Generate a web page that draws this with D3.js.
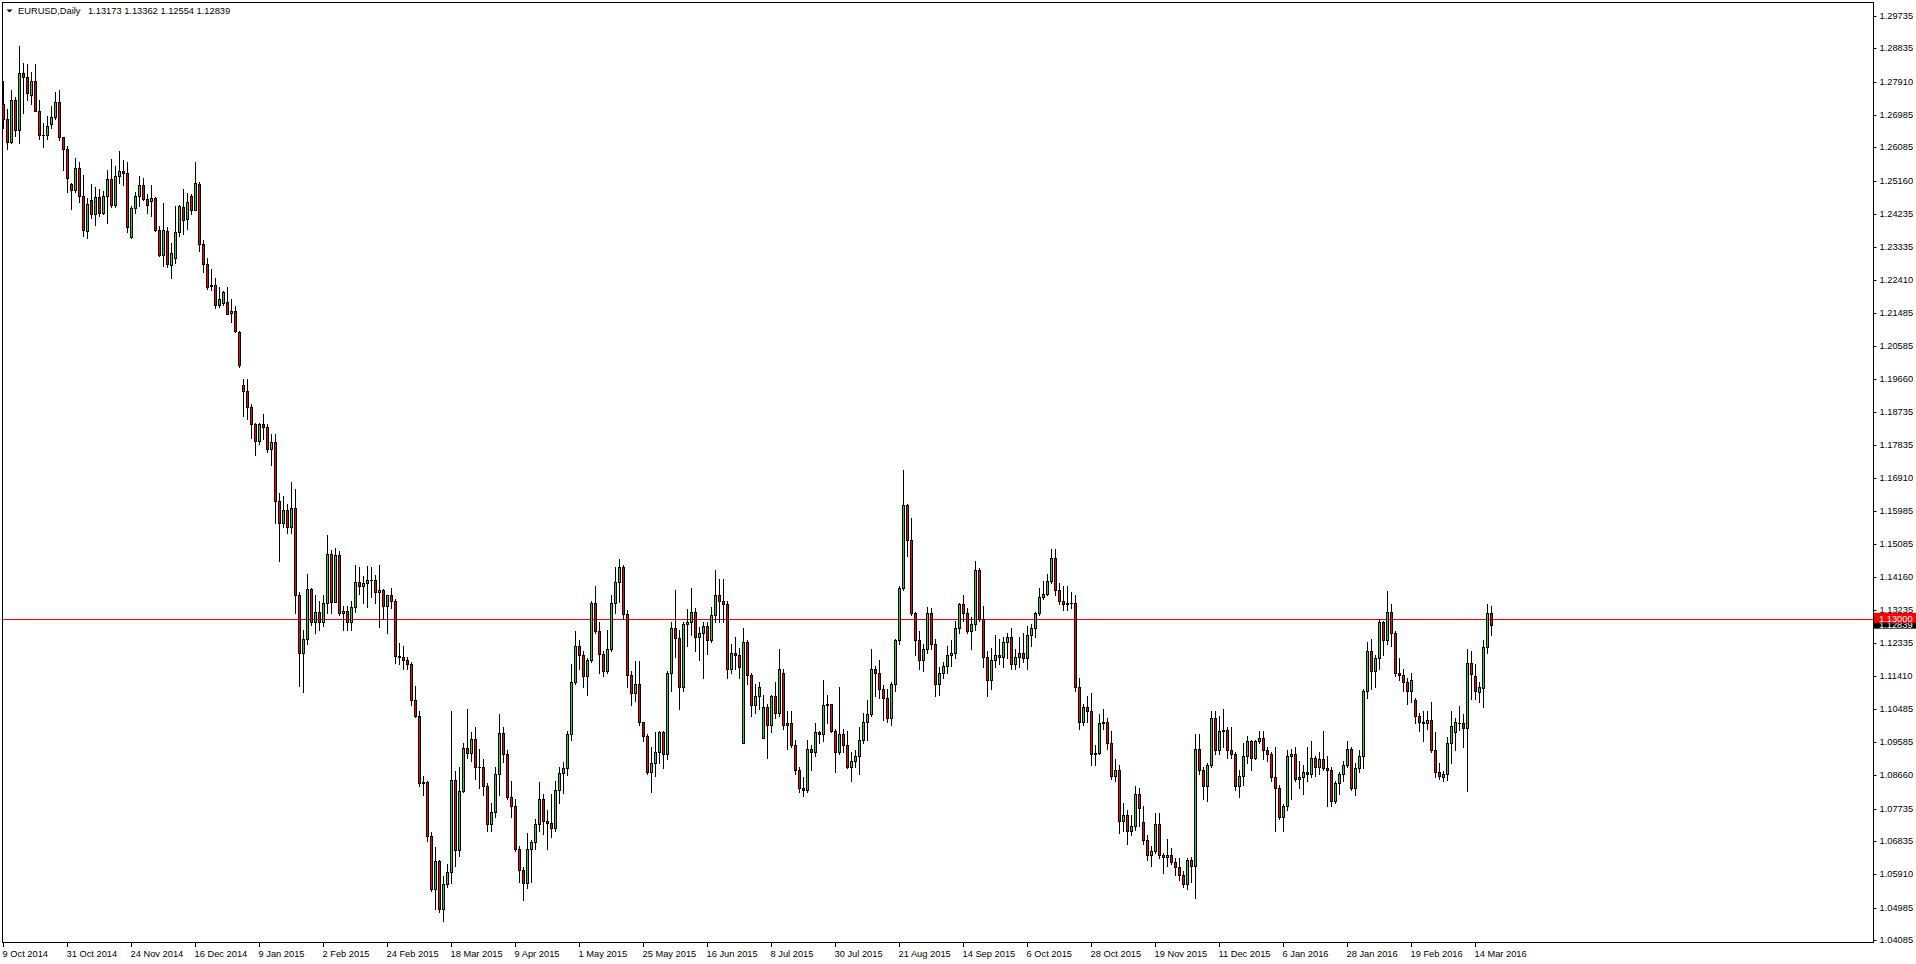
<!DOCTYPE html>
<html><head><meta charset="utf-8">
<script src="https://cdn.jsdelivr.net/npm/d3@7"></script>
<style>
html,body{margin:0;padding:0;background:#fff;overflow:hidden}
svg{display:block}
text{font-family:"Liberation Sans",Arial,sans-serif}
</style></head><body>
<svg id="c" width="1916" height="964"></svg>
<script>
const symbolName = "EURUSD,Daily";
const lastQuote = ["1.13173","1.13362","1.12554","1.12839"];
const openP = [
1.2730,1.2687,1.2625,1.2741,1.2656,1.2815,1.2804,1.2754,1.2793,1.2710,1.2643,1.2643,1.2673,1.2693,1.2735,1.2637,
1.2605,1.2508,1.2490,1.2552,1.2474,1.2376,1.2462,1.2423,1.2472,1.2426,1.2474,1.2522,1.2448,1.2530,1.2543,1.2539,
1.2360,1.2440,1.2474,1.2505,1.2466,1.2459,1.2469,1.2380,1.2310,1.2377,1.2282,1.2303,1.2373,1.2444,1.2410,1.2475,
1.2435,1.2508,1.2340,1.2285,1.2226,1.2226,1.2170,1.2177,1.2179,1.2148,1.2155,1.2097,1.1950,1.1932,1.1888,1.1840,
1.1794,1.1840,1.1832,1.1772,1.1790,1.1627,1.1566,1.1602,1.1556,1.1607,1.1365,1.1204,1.1243,1.1382,1.1290,1.1318,
1.1290,1.1343,1.1480,1.1348,1.1478,1.1315,1.1321,1.1292,1.1333,1.1402,1.1390,1.1400,1.1409,1.1407,1.1375,1.1380,
1.1335,1.1365,1.1350,1.1197,1.1195,1.1185,1.1175,1.1075,1.1031,1.0843,1.0848,1.0698,1.0551,1.0627,1.0495,1.0565,
1.0596,1.0852,1.0659,1.0821,1.0942,1.0928,1.0966,1.0890,1.0888,1.0835,1.0730,1.0765,1.0870,1.0982,1.0925,1.0805,
1.0780,1.0660,1.0603,1.0566,1.0660,1.0680,1.0730,1.0800,1.0738,1.0733,1.0720,1.0825,1.0873,1.0885,1.0980,1.1125,
1.1225,1.1199,1.1140,1.1185,1.1345,1.1265,1.1203,1.1154,1.1215,1.1345,1.1402,1.1445,1.1314,1.1145,1.1095,1.1120,
1.1013,1.0974,1.0875,1.0900,1.0930,1.0985,1.0925,1.1150,1.1275,1.1247,1.1110,1.1285,1.1290,1.1320,1.1250,1.1260,
1.1280,1.1240,1.1310,1.1365,1.1350,1.1340,1.1160,1.1205,1.1200,1.0955,1.1235,1.1145,1.1060,1.1085,1.0970,1.1055,
1.1005,1.1085,1.1040,1.1150,1.1005,1.1010,1.0950,1.0880,1.0830,1.0825,1.0940,1.0930,1.0985,1.0980,1.1060,1.1063,
1.0990,1.0930,1.0980,1.0950,1.0890,1.0905,1.0920,1.0965,1.1015,1.1035,1.1160,1.1150,1.1105,1.1080,1.1025,1.1120,
1.1240,1.1385,1.1615,1.1520,1.1315,1.1240,1.1185,1.1215,1.1315,1.1230,1.1120,1.1150,1.1170,1.1200,1.1205,1.1275,
1.1340,1.1315,1.1265,1.1285,1.1435,1.1300,1.1195,1.1130,1.1185,1.1200,1.1195,1.1235,1.1250,1.1175,1.1195,1.1205,
1.1190,1.1255,1.1275,1.1315,1.1360,1.1370,1.1405,1.1470,1.1380,1.1350,1.1340,1.1345,1.1343,1.1110,1.1015,1.1055,
1.1045,1.0925,1.0928,1.1010,1.1015,1.0955,1.0865,1.0880,1.0740,1.0755,1.0710,1.0725,1.0815,1.0735,1.0685,1.0645,
1.0655,1.0730,1.0645,1.0640,1.0645,1.0625,1.0610,1.0590,1.0565,1.0630,1.0615,1.0940,1.0880,1.0835,1.0895,1.1025,
1.0935,1.0990,1.0992,1.0935,1.0925,1.0835,1.0865,1.0920,1.0960,1.0915,1.0960,1.0970,1.0935,1.0925,1.0860,1.0830,
1.0750,1.0780,1.0920,1.0925,1.0855,1.0860,1.0875,1.0870,1.0915,1.0890,1.0910,1.0885,1.0880,1.0795,1.0845,1.0870,
1.0895,1.0940,1.0830,1.0885,1.0920,1.1100,1.1210,1.1155,1.1190,1.1290,1.1240,1.1320,1.1260,1.1150,1.1145,1.1125,
1.1100,1.1075,1.1030,1.1015,1.1010,1.1020,1.0935,1.0875,1.0860,1.0869,1.0955,1.0986,1.1011,1.1011,1.0997,1.1177,
1.1140,1.1098,1.1108,1.1222,1.13173];
const highP = [
1.2792,1.2716,1.2769,1.2750,1.2889,1.2844,1.2841,1.2817,1.2841,1.2739,1.2676,1.2697,1.2724,1.2763,1.2769,1.2637,
1.2613,1.2511,1.2578,1.2567,1.2533,1.2468,1.2508,1.2498,1.2493,1.2487,1.2547,1.2576,1.2556,1.2599,1.2574,1.2569,
1.2445,1.2484,1.2530,1.2525,1.2480,1.2505,1.2470,1.2391,1.2454,1.2389,1.2343,1.2447,1.2448,1.2494,1.2482,1.2478,
1.2568,1.2514,1.2352,1.2301,1.2271,1.2246,1.2220,1.2211,1.2221,1.2188,1.2168,1.2100,1.1966,1.1965,1.1897,1.1845,
1.1845,1.1869,1.1840,1.1812,1.1812,1.1650,1.1642,1.1620,1.1679,1.1660,1.1375,1.1269,1.1424,1.1387,1.1366,1.1350,
1.1365,1.1534,1.1491,1.1497,1.1487,1.1337,1.1337,1.1350,1.1449,1.1443,1.1420,1.1448,1.1445,1.1423,1.1450,1.1382,
1.1360,1.1387,1.1355,1.1234,1.1225,1.1195,1.1180,1.1113,1.1045,1.0865,1.0850,1.0708,1.0667,1.0630,1.0585,1.0620,
1.1043,1.0879,1.0890,1.0956,1.1051,1.0985,1.1000,1.0940,1.0910,1.0845,1.0790,1.0890,1.1035,1.1000,1.0935,1.0850,
1.0800,1.0670,1.0611,1.0705,1.0685,1.0744,1.0848,1.0815,1.0770,1.0815,1.0850,1.0890,1.0902,1.0990,1.1175,1.1266,
1.1240,1.1210,1.1190,1.1350,1.1390,1.1290,1.1210,1.1270,1.1366,1.1445,1.1467,1.1450,1.1325,1.1154,1.1182,1.1182,
1.1015,1.0980,1.0945,1.0985,1.0990,1.0990,1.1155,1.1290,1.1380,1.1268,1.1290,1.1328,1.1385,1.1330,1.1276,1.1290,
1.1290,1.1333,1.1436,1.1410,1.1410,1.1350,1.1230,1.1250,1.1220,1.1275,1.1240,1.1150,1.1120,1.1125,1.1090,1.1065,
1.1090,1.1125,1.1215,1.1160,1.1045,1.1045,1.0965,1.0890,1.0860,1.0965,1.0950,1.1010,1.0990,1.1129,1.1090,1.1065,
1.0995,1.1110,1.0995,1.0990,1.0930,1.0935,1.1000,1.1040,1.1075,1.1215,1.1170,1.1185,1.1115,1.1105,1.1125,1.1245,
1.1390,1.1714,1.1620,1.1580,1.1320,1.1265,1.1230,1.1333,1.1330,1.1245,1.1165,1.1180,1.1225,1.1240,1.1295,1.1345,
1.1365,1.1330,1.1305,1.1460,1.1440,1.1335,1.1210,1.1220,1.1255,1.1245,1.1250,1.1260,1.1275,1.1215,1.1250,1.1260,
1.1280,1.1285,1.1320,1.1385,1.1405,1.1425,1.1495,1.1495,1.1400,1.1390,1.1390,1.1375,1.1365,1.1135,1.1065,1.1085,
1.1095,1.0950,1.1035,1.1050,1.1025,1.0990,1.0910,1.0895,1.0790,1.0770,1.0755,1.0835,1.0830,1.0780,1.0700,1.0670,
1.0760,1.0760,1.0650,1.0690,1.0665,1.0635,1.0635,1.0600,1.0635,1.0640,1.0981,1.0980,1.0890,1.0900,1.1045,1.1045,
1.1030,1.1050,1.1000,1.1000,1.0930,1.0880,1.0955,1.0975,1.0965,1.0965,1.0990,1.0990,1.0945,1.0930,1.0945,1.0840,
1.0785,1.0935,1.0940,1.0945,1.0905,1.0895,1.0945,1.0960,1.0920,1.0930,1.0990,1.0920,1.0890,1.0850,1.0875,1.0905,
1.0960,1.0945,1.0900,1.0935,1.1105,1.1235,1.1245,1.1200,1.1300,1.1295,1.1376,1.1340,1.1265,1.1190,1.1160,1.1135,
1.1150,1.1080,1.1040,1.1045,1.1045,1.1070,1.0985,1.0900,1.0878,1.0972,1.1044,1.1025,1.1058,1.1036,1.1216,1.1211,
1.1174,1.1125,1.1241,1.1341,1.13362];
const lowP = [
1.2662,1.2604,1.2622,1.2639,1.2622,1.2704,1.2741,1.2730,1.2709,1.2633,1.2611,1.2633,1.2662,1.2687,1.2630,1.2547,
1.2485,1.2437,1.2486,1.2456,1.2362,1.2357,1.2412,1.2392,1.2419,1.2424,1.2398,1.2443,1.2443,1.2510,1.2504,1.2373,
1.2358,1.2428,1.2445,1.2463,1.2428,1.2417,1.2376,1.2308,1.2280,1.2278,1.2246,1.2288,1.2362,1.2369,1.2383,1.2424,
1.2434,1.2320,1.2264,1.2216,1.2214,1.2163,1.2166,1.2172,1.2147,1.2123,1.2095,1.2000,1.1862,1.1854,1.1802,1.1754,
1.1785,1.1800,1.1762,1.1728,1.1567,1.1460,1.1555,1.1538,1.1539,1.1316,1.1113,1.1098,1.1231,1.1283,1.1262,1.1270,
1.1280,1.1315,1.1315,1.1346,1.1310,1.1269,1.1270,1.1270,1.1318,1.1370,1.1343,1.1334,1.1362,1.1345,1.1277,1.1300,
1.1260,1.1330,1.1178,1.1175,1.1160,1.1160,1.1060,1.1028,1.0837,1.0811,1.0684,1.0545,1.0495,1.0485,1.0462,1.0557,
1.0566,1.0613,1.0643,1.0818,1.0913,1.0905,1.0856,1.0830,1.0810,1.0710,1.0710,1.0750,1.0810,1.0904,1.0800,1.0750,
1.0655,1.0570,1.0520,1.0554,1.0570,1.0660,1.0710,1.0704,1.0660,1.0694,1.0710,1.0790,1.0816,1.0866,1.0965,1.1120,
1.1160,1.1110,1.1090,1.1180,1.1260,1.1150,1.1140,1.1150,1.1210,1.1315,1.1348,1.1300,1.1110,1.1060,1.1073,1.1005,
1.0960,1.0870,1.0819,1.0865,1.0900,1.0885,1.0910,1.1100,1.1195,1.1050,1.1100,1.1225,1.1255,1.1210,1.1185,1.1135,
1.1203,1.1235,1.1290,1.1290,1.1290,1.1135,1.1150,1.1160,1.1135,1.0955,1.1120,1.1030,1.1040,1.1050,1.0970,1.0915,
1.0985,1.1025,1.1030,1.0995,1.0940,1.0945,1.0870,1.0820,1.0808,1.0820,1.0880,1.0920,1.0955,1.0960,1.1010,1.0985,
1.0875,1.0925,1.0930,1.0885,1.0850,1.0890,1.0870,1.0955,1.0965,1.1030,1.1085,1.1080,1.1020,1.1015,1.1005,1.1100,
1.1230,1.1380,1.1475,1.1310,1.1200,1.1160,1.1155,1.1205,1.1215,1.1085,1.1090,1.1135,1.1150,1.1170,1.1190,1.1260,
1.1295,1.1260,1.1215,1.1270,1.1295,1.1165,1.1085,1.1105,1.1165,1.1175,1.1165,1.1190,1.1160,1.1160,1.1165,1.1180,
1.1160,1.1225,1.1250,1.1310,1.1355,1.1365,1.1400,1.1365,1.1340,1.1325,1.1325,1.1330,1.1100,1.0995,1.1005,1.1015,
1.0895,1.0895,1.0925,1.0995,1.0940,1.0855,1.0850,1.0705,1.0710,1.0675,1.0700,1.0715,1.0725,1.0675,1.0630,1.0615,
1.0650,1.0635,1.0595,1.0615,1.0620,1.0590,1.0575,1.0555,1.0550,1.0570,1.0524,1.0870,1.0800,1.0795,1.0890,1.0925,
1.0925,1.0945,1.0915,1.0915,1.0825,1.0805,1.0840,1.0900,1.0880,1.0910,1.0955,1.0910,1.0905,1.0850,1.0710,1.0745,
1.0710,1.0770,1.0800,1.0850,1.0830,1.0815,1.0850,1.0860,1.0865,1.0870,1.0880,1.0780,1.0780,1.0790,1.0815,1.0850,
1.0890,1.0825,1.0810,1.0875,1.0885,1.1080,1.1105,1.1110,1.1160,1.1200,1.1230,1.1225,1.1140,1.1130,1.1100,1.1065,
1.1070,1.1010,1.0990,1.0960,1.0995,1.0930,1.0860,1.0855,1.0850,1.0852,1.0900,1.0936,1.0991,1.0944,1.0822,1.1078,
1.1078,1.1069,1.1055,1.1205,1.12554];
const closeP = [
1.2687,1.2625,1.2741,1.2656,1.2815,1.2803,1.2759,1.2793,1.2709,1.2642,1.2642,1.2668,1.2693,1.2735,1.2637,1.2604,
1.2523,1.2491,1.2552,1.2473,1.2380,1.2452,1.2423,1.2472,1.2426,1.2474,1.2522,1.2448,1.2530,1.2543,1.2539,1.2387,
1.2440,1.2474,1.2505,1.2465,1.2449,1.2469,1.2380,1.2310,1.2380,1.2285,1.2315,1.2374,1.2447,1.2406,1.2457,1.2435,
1.2510,1.2340,1.2285,1.2220,1.2223,1.2170,1.2189,1.2207,1.2147,1.2155,1.2100,1.2004,1.1932,1.1888,1.1840,1.1794,
1.1840,1.1832,1.1772,1.1790,1.1627,1.1566,1.1602,1.1556,1.1607,1.1365,1.1204,1.1243,1.1382,1.1290,1.1318,1.1290,
1.1343,1.1480,1.1348,1.1478,1.1315,1.1321,1.1292,1.1333,1.1402,1.1390,1.1400,1.1409,1.1407,1.1375,1.1380,1.1335,
1.1365,1.1350,1.1197,1.1195,1.1185,1.1175,1.1075,1.1031,1.0843,1.0848,1.0698,1.0551,1.0627,1.0495,1.0565,1.0596,
1.0852,1.0659,1.0821,1.0942,1.0928,1.0966,1.0890,1.0888,1.0835,1.0730,1.0765,1.0870,1.0982,1.0925,1.0805,1.0780,
1.0660,1.0603,1.0566,1.0660,1.0680,1.0730,1.0800,1.0738,1.0733,1.0720,1.0825,1.0873,1.0885,1.0980,1.1125,1.1225,
1.1199,1.1140,1.1185,1.1345,1.1265,1.1203,1.1154,1.1215,1.1345,1.1402,1.1445,1.1314,1.1145,1.1095,1.1120,1.1013,
1.0974,1.0875,1.0900,1.0930,1.0985,1.0925,1.1150,1.1275,1.1247,1.1110,1.1285,1.1290,1.1320,1.1250,1.1260,1.1280,
1.1240,1.1310,1.1365,1.1350,1.1340,1.1160,1.1205,1.1200,1.1165,1.1235,1.1145,1.1060,1.1085,1.1110,1.1055,1.1005,
1.1085,1.1040,1.1160,1.1005,1.1010,1.0950,1.0880,1.0830,1.0825,1.0940,1.0930,1.0985,1.0980,1.1060,1.1063,1.0990,
1.0930,1.0980,1.0950,1.0890,1.0905,1.0920,1.0965,1.1015,1.1035,1.1160,1.1150,1.1105,1.1080,1.1025,1.1120,1.1240,
1.1385,1.1615,1.1520,1.1315,1.1240,1.1185,1.1215,1.1315,1.1230,1.1120,1.1150,1.1170,1.1200,1.1205,1.1275,1.1340,
1.1315,1.1265,1.1285,1.1435,1.1300,1.1195,1.1130,1.1185,1.1200,1.1195,1.1235,1.1250,1.1175,1.1195,1.1205,1.1190,
1.1255,1.1275,1.1315,1.1360,1.1370,1.1405,1.1470,1.1380,1.1350,1.1340,1.1345,1.1343,1.1110,1.1015,1.1055,1.1045,
1.0925,1.0928,1.1010,1.1015,1.0955,1.0865,1.0880,1.0740,1.0755,1.0710,1.0725,1.0815,1.0775,1.0685,1.0645,1.0655,
1.0730,1.0645,1.0640,1.0645,1.0625,1.0610,1.0590,1.0565,1.0630,1.0615,1.0940,1.0880,1.0835,1.0895,1.1025,1.0935,
1.0990,1.0992,1.0935,1.0925,1.0835,1.0865,1.0920,1.0960,1.0915,1.0960,1.0970,1.0935,1.0925,1.0860,1.0830,1.0750,
1.0780,1.0920,1.0925,1.0855,1.0860,1.0875,1.0870,1.0915,1.0890,1.0910,1.0885,1.0880,1.0795,1.0845,1.0870,1.0895,
1.0940,1.0830,1.0885,1.0920,1.1100,1.1210,1.1155,1.1190,1.1290,1.1240,1.1320,1.1260,1.1150,1.1145,1.1125,1.1100,
1.1130,1.1030,1.1015,1.1010,1.1020,1.0935,1.0875,1.0865,1.0868,1.0955,1.1003,1.1013,1.1011,1.0997,1.1177,1.1147,
1.1100,1.1110,1.1222,1.1316,1.12839];
const priceTicks = [1.29735,1.28835,1.27910,1.26985,1.26085,1.25160,1.24235,1.23335,1.22410,1.21485,1.20585,1.19660,1.18735,1.17835,1.16910,1.15985,1.15085,1.14160,1.13235,1.12335,1.11410,1.10485,1.09585,1.08660,1.07735,1.06835,1.05910,1.04985,1.04085];
const dateLabels = ["9 Oct 2014","31 Oct 2014","24 Nov 2014","16 Dec 2014","9 Jan 2015","2 Feb 2015","24 Feb 2015","18 Mar 2015","9 Apr 2015","1 May 2015","25 May 2015","16 Jun 2015","8 Jul 2015","30 Jul 2015","21 Aug 2015","14 Sep 2015","6 Oct 2015","28 Oct 2015","19 Nov 2015","11 Dec 2015","6 Jan 2016","28 Jan 2016","19 Feb 2016","14 Mar 2016"];
const barsPerLabel = 16;
const lineLevel = 1.13000;
const lastClose = 1.12839;

const svg = d3.select("#c");
svg.append("rect").attr("width",1916).attr("height",964).attr("fill","#fff");

const x = d3.scaleLinear().domain([0, 100]).range([3, 403]);
const y = d3.scaleLinear().domain([1.04085, 1.29735]).range([940, 16]);
const R = v => Math.round(v);

// horizontal level line
svg.append("line").attr("x1",3).attr("x2",1873).attr("y1",R(y(lineLevel))+0.5).attr("y2",R(y(lineLevel))+0.5)
  .attr("stroke","#ff0000").attr("stroke-width",1);

const n = Math.min(openP.length, highP.length, lowP.length, closeP.length);
const bars = d3.range(n).map(i => ({i, o:openP[i], h:highP[i], l:lowP[i], c:closeP[i]}));
const g = svg.append("g");
const cg = g.selectAll("g.bar").data(bars).join("g").attr("class","bar");
cg.append("line")
  .attr("x1", d => R(x(d.i))+0.5).attr("x2", d => R(x(d.i))+0.5)
  .attr("y1", d => R(y(d.h))).attr("y2", d => R(y(d.l))+1)
  .attr("stroke","#000").attr("stroke-width",1);
cg.filter(d => R(y(Math.min(d.o,d.c))) - R(y(Math.max(d.o,d.c))) > 0).append("rect")
  .attr("x", d => R(x(d.i))-0.5).attr("width", 2)
  .attr("y", d => R(y(Math.max(d.o,d.c)))+0.5)
  .attr("height", d => R(y(Math.min(d.o,d.c))) - R(y(Math.max(d.o,d.c))))
  .attr("fill", d => d.c >= d.o ? "#32cd32" : "#ff0000")
  .attr("stroke","#000").attr("stroke-width",1);
cg.filter(d => R(y(Math.min(d.o,d.c))) - R(y(Math.max(d.o,d.c))) <= 0).append("line")
  .attr("x1", d => R(x(d.i))-1).attr("x2", d => R(x(d.i))+2)
  .attr("y1", d => R(y(d.c))+0.5).attr("y2", d => R(y(d.c))+0.5)
  .attr("stroke","#000").attr("stroke-width",1);

// frame
svg.append("rect").attr("x",2.5).attr("y",2.5).attr("width",1871).attr("height",940)
  .attr("fill","none").attr("stroke","#000").attr("stroke-width",1);

// right price axis
const ay = d3.axisRight(y).tickValues(priceTicks).tickSize(3).tickPadding(3).tickFormat(d3.format(".5f"));
const gy = svg.append("g").attr("transform","translate(1873.5,0)").call(ay);
gy.select(".domain").remove();
gy.selectAll(".tick line").attr("stroke","#000");
gy.selectAll(".tick").attr("transform", d => `translate(0,${R(y(d))+0.5})`);
gy.selectAll("text").attr("font-family","Liberation Sans, Arial, sans-serif").attr("font-size","9.3px").attr("fill","#000");

// price tags (last close and level line)
function tag(v, bg){
  const yy = y(v);
  svg.append("rect").attr("x",1874).attr("y",yy-6).attr("width",42).attr("height",10).attr("fill",bg);
  svg.append("text").attr("x",1879).attr("y",yy+3).attr("font-size","9.3px").attr("fill","#fff").text(d3.format(".5f")(v));
}
tag(lastClose, "#000");
tag(lineLevel, "#ff0000");

// bottom date axis
const tickIdx = dateLabels.map((d,k) => k*barsPerLabel);
const ax = d3.axisBottom(x).tickValues(tickIdx).tickSize(4).tickPadding(2).tickFormat((d,k) => dateLabels[k]);
const gx = svg.append("g").attr("transform","translate(0,943)").call(ax);
gx.select(".domain").remove();
gx.selectAll(".tick").attr("transform", d => `translate(${R(x(d))+0.5},0)`);
gx.selectAll(".tick line").attr("stroke","#000");
gx.selectAll("text").attr("text-anchor","start").attr("x",-1).attr("y",7).attr("dy","0.71em")
  .attr("font-family","Liberation Sans, Arial, sans-serif").attr("font-size","9.3px").attr("fill","#000");

// title
svg.append("path").attr("d","M6.5,9.5 L12.5,9.5 L9.5,12.5 Z").attr("fill","#000");
svg.append("text").attr("x",18).attr("y",14).attr("font-size","9.3px").attr("fill","#000").text(symbolName);
svg.append("text").attr("x",88).attr("y",14).attr("font-size","9.3px").attr("fill","#000").text(lastQuote.join(" "));
</script>
</body></html>
